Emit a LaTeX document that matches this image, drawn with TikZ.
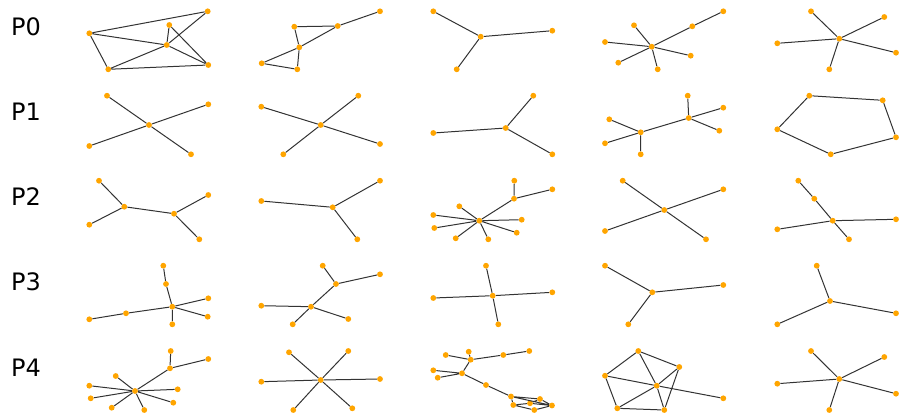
\documentclass[tikz,border=0pt]{standalone}
\usepackage{fontspec}
\setmainfont{DejaVu Sans}
\usepackage{tikz}
\usetikzlibrary{positioning}
\usepackage{xcolor}
\definecolor{dotorange}{HTML}{FFA500}

\begin{document}
\begin{tikzpicture}[
  x=1pt, y=-1pt,
  dot/.style   = {circle, fill=dotorange, draw=none, inner sep=0pt, minimum size=5.8pt},
  edge/.style  = {draw=black!80, line width=1pt},
  rowlbl/.style = {anchor=base west, inner sep=0pt, font=\fontsize{24}{28}\selectfont},
]
\useasboundingbox (0,0) rectangle (899,418);

%% ---- Row labels ----
\node[rowlbl] (lbl0) at (11,35)  {P0};
\node[rowlbl] (lbl1) at (11,120) {P1};
\node[rowlbl] (lbl2) at (11,205) {P2};
\node[rowlbl] (lbl3) at (11,290) {P3};
\node[rowlbl] (lbl4) at (11,376) {P4};

%% ---- P0 ----
\node[dot] (g00a) at (89.3,33.3) {};
\node[dot] (g00b) at (207.7,11.3) {};
\node[dot] (g00c) at (169.3,25) {};
\node[dot] (g00d) at (166.7,45) {};
\node[dot] (g00e) at (108.3,69.3) {};
\node[dot] (g00f) at (208.3,65) {};
\draw[edge] (g00a) -- (g00b) (g00a) -- (g00d) (g00a) -- (g00e) (g00e) -- (g00d)
  (g00e) -- (g00f) (g00d) -- (g00b) (g00c) -- (g00d) (g00c) -- (g00f) (g00d) -- (g00f);

\node[dot] (g01a) at (294.3,26.7) {};
\node[dot] (g01b) at (337.7,26) {};
\node[dot] (g01c) at (380,11.3) {};
\node[dot] (g01d) at (299.3,47.3) {};
\node[dot] (g01e) at (261.7,63.3) {};
\node[dot] (g01f) at (297.3,69.3) {};
\draw[edge] (g01a) -- (g01b) (g01b) -- (g01c) (g01a) -- (g01d) (g01d) -- (g01b)
  (g01d) -- (g01e) (g01e) -- (g01f) (g01d) -- (g01f);

\node[dot] (g02c) at (480.7,36.7) {};
\node[dot] (g02a) at (433.3,11.3) {};
\node[dot] (g02b) at (552.3,30.7) {};
\node[dot] (g02d) at (456.7,69.3) {};
\draw[edge] (g02c) -- (g02a) (g02c) -- (g02b) (g02c) -- (g02d);

\node[dot] (g03c) at (651.7,46.7) {};
\node[dot] (g03a) at (723.3,11.3) {};
\node[dot] (g03b) at (692.3,26.3) {};
\node[dot] (g03d) at (634,25.3) {};
\node[dot] (g03e) at (605,42) {};
\node[dot] (g03f) at (618.3,62.7) {};
\node[dot] (g03g) at (657.7,69.3) {};
\node[dot] (g03h) at (690.7,55.7) {};
\draw[edge] (g03c) -- (g03b) (g03b) -- (g03a) (g03c) -- (g03d) (g03c) -- (g03e)
  (g03c) -- (g03f) (g03c) -- (g03g) (g03c) -- (g03h);

\node[dot] (g04c) at (839.3,38.7) {};
\node[dot] (g04a) at (811,11.3) {};
\node[dot] (g04b) at (884.3,17) {};
\node[dot] (g04d) at (777.3,43.3) {};
\node[dot] (g04e) at (896,52.7) {};
\node[dot] (g04f) at (829.3,69.3) {};
\draw[edge] (g04c) -- (g04a) (g04c) -- (g04b) (g04c) -- (g04d) (g04c) -- (g04e) (g04c) -- (g04f);

%% ---- P1 ----
\node[dot] (g10c) at (149,125) {};
\node[dot] (g10a) at (107,95.7) {};
\node[dot] (g10b) at (208.3,104.3) {};
\node[dot] (g10d) at (89.3,146) {};
\node[dot] (g10e) at (191,154.3) {};
\draw[edge] (g10c) -- (g10a) (g10c) -- (g10b) (g10c) -- (g10d) (g10c) -- (g10e);

\node[dot] (g11c) at (320.7,125) {};
\node[dot] (g11a) at (261.3,106.7) {};
\node[dot] (g11b) at (358.3,95.7) {};
\node[dot] (g11d) at (283.3,154.3) {};
\node[dot] (g11e) at (380,144) {};
\draw[edge] (g11c) -- (g11a) (g11c) -- (g11b) (g11c) -- (g11d) (g11c) -- (g11e);

\node[dot] (g12c) at (505.7,128) {};
\node[dot] (g12a) at (533.3,95.7) {};
\node[dot] (g12b) at (433.3,133) {};
\node[dot] (g12d) at (552.3,154.3) {};
\draw[edge] (g12c) -- (g12a) (g12c) -- (g12b) (g12c) -- (g12d);

\node[dot] (g13c) at (640.7,132.3) {};
\node[dot] (g13h) at (688.7,118) {};
\node[dot] (g13a) at (609.3,119.3) {};
\node[dot] (g13b) at (605,143.3) {};
\node[dot] (g13d) at (640.7,154.3) {};
\node[dot] (g13e) at (687.7,95.7) {};
\node[dot] (g13f) at (723.3,107.7) {};
\node[dot] (g13g) at (719.3,130.7) {};
\draw[edge] (g13c) -- (g13h) (g13c) -- (g13a) (g13c) -- (g13b) (g13c) -- (g13d)
  (g13h) -- (g13e) (g13h) -- (g13f) (g13h) -- (g13g);

\node[dot] (g14a) at (809.3,95.7) {};
\node[dot] (g14b) at (882.7,100.3) {};
\node[dot] (g14c) at (896,137.3) {};
\node[dot] (g14d) at (830.7,154.3) {};
\node[dot] (g14e) at (777.3,129.3) {};
\draw[edge] (g14a) -- (g14b) (g14b) -- (g14c) (g14c) -- (g14d) (g14d) -- (g14e) (g14e) -- (g14a);

%% ---- P2 ----
\node[dot] (g20a) at (99,180.7) {};
\node[dot] (g20b) at (124.3,206.7) {};
\node[dot] (g20c) at (174,213.7) {};
\node[dot] (g20d) at (208.3,195) {};
\node[dot] (g20e) at (89.3,224.7) {};
\node[dot] (g20f) at (199.3,239.3) {};
\draw[edge] (g20a) -- (g20b) (g20b) -- (g20e) (g20b) -- (g20c) (g20c) -- (g20d) (g20c) -- (g20f);

\node[dot] (g21c) at (332.7,207.3) {};
\node[dot] (g21a) at (261.3,201) {};
\node[dot] (g21b) at (380,180.7) {};
\node[dot] (g21d) at (357.3,239.3) {};
\draw[edge] (g21c) -- (g21a) (g21c) -- (g21b) (g21c) -- (g21d);

\node[dot] (g22c) at (479.3,220.7) {};
\node[dot] (g22h) at (514,198.7) {};
\node[dot] (g22i) at (514.3,180.7) {};
\node[dot] (g22j) at (552.3,189.3) {};
\node[dot] (g22a) at (459.3,206.3) {};
\node[dot] (g22b) at (433.3,215) {};
\node[dot] (g22d) at (434.3,228) {};
\node[dot] (g22e) at (455.7,238.3) {};
\node[dot] (g22f) at (488.3,239.3) {};
\node[dot] (g22g) at (516.7,232.7) {};
\node[dot] (g22k) at (521.7,219.7) {};
\draw[edge] (g22c) -- (g22h) (g22h) -- (g22i) (g22h) -- (g22j) (g22c) -- (g22a) (g22c) -- (g22b)
  (g22c) -- (g22d) (g22c) -- (g22e) (g22c) -- (g22f) (g22c) -- (g22g) (g22c) -- (g22k);

\node[dot] (g23c) at (664.3,210) {};
\node[dot] (g23a) at (622.7,180.7) {};
\node[dot] (g23b) at (723.3,189.3) {};
\node[dot] (g23d) at (605,231) {};
\node[dot] (g23e) at (706,239.3) {};
\draw[edge] (g23c) -- (g23a) (g23c) -- (g23b) (g23c) -- (g23d) (g23c) -- (g23e);

\node[dot] (g24a) at (798.3,180.7) {};
\node[dot] (g24b) at (814.3,198.7) {};
\node[dot] (g24c) at (832.7,220.7) {};
\node[dot] (g24d) at (896,219.3) {};
\node[dot] (g24e) at (777.3,229.3) {};
\node[dot] (g24f) at (849,239.3) {};
\draw[edge] (g24a) -- (g24b) (g24b) -- (g24c) (g24c) -- (g24d) (g24c) -- (g24e) (g24c) -- (g24f);

%% ---- P3 ----
\node[dot] (g30a) at (163.3,265.7) {};
\node[dot] (g30b) at (166,284) {};
\node[dot] (g30c) at (172.3,306.7) {};
\node[dot] (g30d) at (208.3,298.3) {};
\node[dot] (g30e) at (207.7,316.7) {};
\node[dot] (g30f) at (172.3,324.3) {};
\node[dot] (g30g) at (126,313.3) {};
\node[dot] (g30h) at (89.3,319.3) {};
\draw[edge] (g30a) -- (g30b) (g30b) -- (g30c) (g30c) -- (g30d) (g30c) -- (g30e)
  (g30c) -- (g30f) (g30c) -- (g30g) (g30g) -- (g30h);

\node[dot] (g31a) at (322.7,265.7) {};
\node[dot] (g31b) at (336,284) {};
\node[dot] (g31d) at (380,274.3) {};
\node[dot] (g31c) at (311,306.7) {};
\node[dot] (g31e) at (261.3,305.7) {};
\node[dot] (g31f) at (292.7,324.3) {};
\node[dot] (g31g) at (348.3,319) {};
\draw[edge] (g31a) -- (g31b) (g31b) -- (g31d) (g31b) -- (g31c) (g31c) -- (g31e)
  (g31c) -- (g31f) (g31c) -- (g31g);

\node[dot] (g32c) at (492.7,295.7) {};
\node[dot] (g32a) at (486,265.7) {};
\node[dot] (g32b) at (433.3,298) {};
\node[dot] (g32d) at (552.3,292.3) {};
\node[dot] (g32e) at (498.3,324.3) {};
\draw[edge] (g32c) -- (g32a) (g32c) -- (g32b) (g32c) -- (g32d) (g32c) -- (g32e);

\node[dot] (g33c) at (652.3,292.3) {};
\node[dot] (g33a) at (605,265.7) {};
\node[dot] (g33b) at (723.3,285) {};
\node[dot] (g33d) at (628.3,324.3) {};
\draw[edge] (g33c) -- (g33a) (g33c) -- (g33b) (g33c) -- (g33d);

\node[dot] (g34c) at (830,301) {};
\node[dot] (g34a) at (816.7,265.7) {};
\node[dot] (g34b) at (896,313.3) {};
\node[dot] (g34d) at (777.3,324.3) {};
\draw[edge] (g34c) -- (g34a) (g34c) -- (g34b) (g34c) -- (g34d);

%% ---- P4 ----
\node[dot] (g40c) at (135,391) {};
\node[dot] (g40h) at (170,368.3) {};
\node[dot] (g40i) at (170.7,351) {};
\node[dot] (g40j) at (208.3,359) {};
\node[dot] (g40a) at (115.7,376) {};
\node[dot] (g40b) at (89.3,385.7) {};
\node[dot] (g40d) at (90.7,398.3) {};
\node[dot] (g40e) at (111.7,407.7) {};
\node[dot] (g40f) at (144.3,410) {};
\node[dot] (g40g) at (173.3,402.7) {};
\node[dot] (g40k) at (177.7,389.3) {};
\draw[edge] (g40c) -- (g40h) (g40h) -- (g40i) (g40h) -- (g40j) (g40c) -- (g40a) (g40c) -- (g40b)
  (g40c) -- (g40d) (g40c) -- (g40e) (g40c) -- (g40f) (g40c) -- (g40g) (g40c) -- (g40k);

\node[dot] (g41c) at (320.7,380) {};
\node[dot] (g41a) at (289,352.3) {};
\node[dot] (g41b) at (348.3,351) {};
\node[dot] (g41d) at (261.3,381.7) {};
\node[dot] (g41e) at (380,379) {};
\node[dot] (g41f) at (293.3,410) {};
\node[dot] (g41g) at (352.3,408.3) {};
\draw[edge] (g41c) -- (g41a) (g41c) -- (g41b) (g41c) -- (g41d) (g41c) -- (g41e)
  (g41c) -- (g41f) (g41c) -- (g41g);

\node[dot] (g42a) at (445.7,355) {};
\node[dot] (g42b) at (468.7,351.7) {};
\node[dot] (g42c) at (470.7,359.7) {};
\node[dot] (g42d) at (503.3,355) {};
\node[dot] (g42e) at (529.3,351) {};
\node[dot] (g42f) at (433.3,370.3) {};
\node[dot] (g42g) at (437.7,377.7) {};
\node[dot] (g42h) at (462,373.3) {};
\node[dot] (g42i) at (486,385) {};
\node[dot] (g42j) at (511,396.5) {};
\node[dot] (g42k) at (540,399) {};
\node[dot] (g42l) at (552,405.5) {};
\node[dot] (g42m) at (530,403.3) {};
\node[dot] (g42n) at (513.3,405) {};
\node[dot] (g42o) at (534.3,410) {};
\draw[edge] (g42a) -- (g42c) (g42b) -- (g42c) (g42c) -- (g42d) (g42d) -- (g42e) (g42c) -- (g42h)
  (g42f) -- (g42h) (g42g) -- (g42h) (g42h) -- (g42i) (g42i) -- (g42j)
  (g42j) -- (g42k) (g42j) -- (g42l) (g42j) -- (g42n) (g42k) -- (g42m) (g42k) -- (g42l)
  (g42n) -- (g42m) (g42m) -- (g42l) (g42n) -- (g42o) (g42o) -- (g42l);

\node[dot] (g43t) at (638.3,351) {};
\node[dot] (g43r) at (679.3,367) {};
\node[dot] (g43l) at (605,375.7) {};
\node[dot] (g43c) at (656.7,385.7) {};
\node[dot] (g43o) at (723.3,398.3) {};
\node[dot] (g43p) at (617.3,408.3) {};
\node[dot] (g43q) at (664.3,410) {};
\draw[edge] (g43t) -- (g43r) (g43r) -- (g43q) (g43q) -- (g43p) (g43p) -- (g43l) (g43l) -- (g43t)
  (g43c) -- (g43t) (g43c) -- (g43r) (g43c) -- (g43p) (g43c) -- (g43q) (g43c) -- (g43l) (g43c) -- (g43o);

\node[dot] (g44c) at (839.3,379) {};
\node[dot] (g44a) at (811,351) {};
\node[dot] (g44b) at (884.3,357) {};
\node[dot] (g44d) at (777.3,383.7) {};
\node[dot] (g44e) at (896,393.7) {};
\node[dot] (g44f) at (829.3,410) {};
\draw[edge] (g44c) -- (g44a) (g44c) -- (g44b) (g44c) -- (g44d) (g44c) -- (g44e) (g44c) -- (g44f);

\end{tikzpicture}
\end{document}
